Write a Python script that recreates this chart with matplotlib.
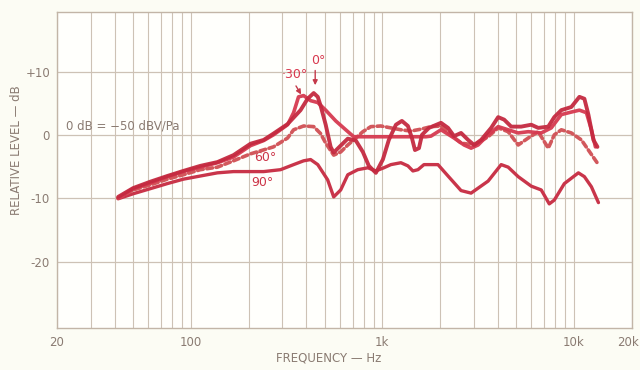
import matplotlib
matplotlib.use("Agg")
import matplotlib.pyplot as plt
import matplotlib.transforms as mtransforms
from matplotlib.ticker import FixedLocator, NullLocator

# ---------------- data ----------------
f_0 = [41.7, 50, 61.4, 75.3, 91.3, 112, 137.6, 167, 205, 240, 270, 320, 374, 407, 438, 460,
       476, 506, 537, 557, 606, 660, 727, 791, 850, 925, 1006, 1081, 1177, 1265, 1360, 1427,
       1480, 1553, 1610, 1752, 2024, 2203, 2368, 2576, 2804, 3014, 3279, 3700, 4025, 4327,
       4708, 5310, 5990, 6517, 7352, 7904, 8601, 9703, 10690, 11350, 11910, 12650, 13280]
db_0 = [-9.8, -8.4, -7.4, -6.5, -5.7, -4.9, -4.3, -3.2, -1.4, -0.8, 0.2, 1.7, 3.9, 5.7, 6.6, 6.0,
        4.6, 1.6, -1.9, -2.8, -1.7, -0.6, -0.9, -2.7, -4.9, -6.0, -3.9, -0.8, 1.6, 2.2, 1.4, -0.5,
        -2.4, -2.1, 0.0, 1.1, 1.9, 1.1, -0.2, 0.3, -0.8, -1.6, -0.8, 1.1, 2.8, 2.4,
        1.3, 1.3, 1.6, 1.1, 1.3, 2.8, 3.9, 4.4, 6.0, 5.7, 3.2, -0.8, -1.9]

f_30 = [41.7, 50, 61.4, 75.3, 91.3, 112, 137.6, 167, 205, 240, 270, 320, 344, 365, 388, 422,
        460, 506, 571, 644, 709, 820, 982, 1177, 1410, 1690, 1794, 2024, 2368, 2671, 2906, 3162,
        3567, 4025, 4540, 5121, 5778, 6757, 7623, 8601, 9703, 10690, 11630, 12350, 12960]
db_30 = [-10.0, -8.5, -7.6, -6.6, -5.8, -5.1, -4.4, -3.5, -1.7, -0.9, 0.0, 1.6, 3.5, 6.0, 6.2, 5.4,
         5.1, 3.9, 2.2, 0.8, -0.3, -0.3, -0.3, -0.3, -0.3, -0.3, -0.2, 0.8, -0.5, -1.6, -2.1, -1.6,
         0.0, 1.3, 0.8, 0.3, 0.5, 0.3, 1.1, 3.2, 3.6, 3.9, 3.5, 0.8, -1.9]

f_60 = [41.7, 50, 61.4, 75.3, 91.3, 112, 137.6, 167, 205, 270, 320, 344, 388, 438, 476, 506,
        557, 606, 660, 727, 791, 871, 982, 1108, 1250, 1410, 1591, 1794, 2024, 2284, 2576, 3014,
        3567, 4025, 4540, 5121, 5778, 6517, 7352, 7904, 8601, 9703, 10950, 11910, 13440]
db_60 = [-10.0, -8.7, -7.9, -7.0, -6.3, -5.5, -5.1, -4.1, -3.0, -1.9, -0.5, 0.8, 1.4, 1.3, 0.2, -1.3,
         -3.2, -2.7, -1.6, -0.5, 0.5, 1.3, 1.4, 1.1, 0.8, 0.6, 0.9, 1.3, 1.4, 0.0, -1.3, -1.6,
         -0.3, 1.1, 0.5, -1.6, -0.5, 0.5, -2.1, 0.0, 0.8, 0.3, -0.8, -2.4, -4.7]

f_90 = [41.7, 50, 61.4, 75.3, 91.3, 112, 137.6, 167, 205, 240, 294, 344, 388, 422, 460, 518,
        557, 606, 660, 744, 840, 925, 1018, 1108, 1250, 1360, 1444, 1534, 1649, 1952, 2203, 2576,
        2906, 3567, 4173, 4540, 5121, 5990, 6757, 7441, 7904, 8918, 10560, 11350, 12350, 13440]
db_90 = [-10.1, -9.3, -8.5, -7.7, -7.0, -6.5, -6.0, -5.8, -5.8, -5.8, -5.5, -4.7, -4.1, -3.9, -4.7, -7.1,
         -9.8, -8.7, -6.3, -5.5, -5.2, -5.7, -5.2, -4.7, -4.4, -4.9, -5.7, -5.5, -4.7, -4.7, -6.5, -8.8,
         -9.2, -7.3, -4.7, -5.1, -6.6, -8.1, -8.7, -10.9, -10.3, -7.7, -6.0, -6.6, -8.2, -10.7]

x_ticks = [20, 100, 1000, 10000, 20000]
x_tick_labels = ["20", "100", "1k", "10k", "20k"]
y_ticks = [10, 0, -10, -20]
y_tick_labels = ["+10", "0", "-10", "-20"]
x_grid = [30, 40, 50, 60, 70, 80, 90, 200, 300, 400, 500, 600, 700, 800, 900,
          2000, 3000, 4000, 5000, 6000, 7000, 8000, 9000]

# ---------------- styling ----------------
text_col = "#8a7b72"
grid_col = "#cdc2b5"

fig = plt.figure(figsize=(6.4, 3.7), dpi=100, facecolor="#fcfcf4")
ax = fig.add_axes([57 / 640, 1 - 328 / 370, (631.5 - 57) / 640, (328 - 12) / 370])
ax.set_facecolor("#fffffc")
ax.set_xscale("log")
ax.set_xlim(20, 20000)
ax.set_ylim(-30.5, 19.4)

for s in ax.spines.values():
    s.set_color("#c2b5a7")
    s.set_linewidth(1.0)

ax.xaxis.set_major_locator(FixedLocator(x_ticks))
ax.xaxis.set_minor_locator(NullLocator())
ax.set_xticklabels(x_tick_labels)
ax.yaxis.set_major_locator(FixedLocator(y_ticks))
ax.set_yticklabels(y_tick_labels)
ax.tick_params(axis="both", length=0, colors=text_col, labelsize=8.5)
ax.tick_params(axis="x", pad=6)
ax.tick_params(axis="y", pad=5)

# keep the "20k" label inside the picture (right aligned, nudged right)
last = ax.get_xticklabels()[-1]
last.set_ha("right")
last.set_transform(last.get_transform() +
                   mtransforms.ScaledTranslation(7 / 100, 0, fig.dpi_scale_trans))

for v in x_grid + x_ticks:
    ax.axvline(v, color=grid_col, lw=0.8, zorder=1)
for v in y_ticks:
    ax.axhline(v, color=grid_col, lw=0.9, zorder=1)

# curves
ax.plot(f_90, db_90, color="#c9354a", lw=2.4, solid_capstyle="round",
        solid_joinstyle="round", zorder=3)
ax.plot(f_60, db_60, color="#d2585c", lw=2.6, ls=(0, (1.6, 1.0)),
        dash_capstyle="round", zorder=4)
ax.plot(f_30, db_30, color="#d63a50", lw=2.6, solid_capstyle="round",
        solid_joinstyle="round", zorder=5, alpha=0.95)
ax.plot(f_0, db_0, color="#c42a40", lw=2.8, solid_capstyle="round",
        solid_joinstyle="round", zorder=6, alpha=0.95)

# labels on curves
lab_col = "#d8384e"
ax.text(350, 9.5, "·30°", color=lab_col, fontsize=9, ha="center", va="center")
ax.text(465, 11.8, "0°", color=lab_col, fontsize=9, ha="center", va="center")
ax.annotate("", xy=(383, 6.0), xytext=(348, 8.1),
            arrowprops=dict(arrowstyle="-|>", color="#c43a4a", lw=1.0, mutation_scale=7))
ax.annotate("", xy=(446, 7.4), xytext=(446, 10.6),
            arrowprops=dict(arrowstyle="-|>", color="#c43a4a", lw=1.0, mutation_scale=7))
ax.text(245, -3.6, "60°", color="#cc3548", fontsize=9, ha="center", va="center")
ax.text(237, -7.6, "90°", color="#cc3548", fontsize=9, ha="center", va="center")

ax.text(22.3, 1.4, "0 dB = −50 dBV/Pa", color=text_col, fontsize=8.5,
        ha="left", va="center", zorder=7)

fig.text(329 / 640, 1 - 358 / 370, "FREQUENCY — Hz", color=text_col, fontsize=8.5,
         ha="center", va="center")
fig.text(17 / 640, 1 - 150 / 370, "RELATIVE LEVEL — dB", color=text_col, fontsize=8.5,
         ha="center", va="center", rotation=90)

fig.savefig("out.png", dpi=100, facecolor=fig.get_facecolor())
